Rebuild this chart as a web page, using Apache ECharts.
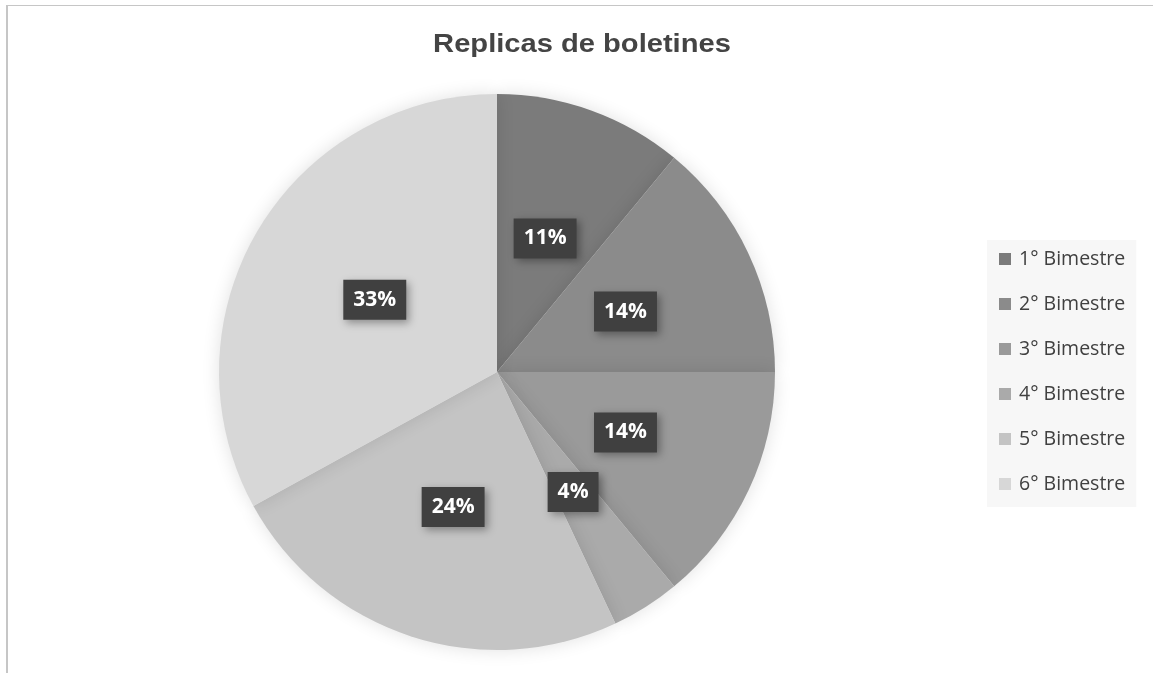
<!DOCTYPE html>
<html>
<head>
<meta charset="utf-8">
<script src="https://cdn.jsdelivr.net/npm/echarts@6/dist/echarts.min.js"></script>
<style>
html,body{margin:0;padding:0;background:#fff;}
#frame{position:absolute;left:6px;top:5px;width:1147px;height:668px;border-top:1px solid #c6c6c6;border-left:2px solid #c6c6c6;box-sizing:border-box;}
#chart{position:absolute;left:0;top:0;width:1153px;height:673px;}
</style>
</head>
<body>
<div id="frame"></div>
<div id="chart"></div>
<script>
const titleText = "Replicas de boletines";
const categories = ["1° Bimestre","2° Bimestre","3° Bimestre","4° Bimestre","5° Bimestre","6° Bimestre"];
const values = [11, 14, 14, 4, 24, 33];
const colors = ["#7b7b7b","#8b8b8b","#9a9a9a","#aaaaaa","#c4c4c4","#d7d7d7"];

const chart = echarts.init(document.getElementById('chart'), null, {renderer:'canvas'});
const data = categories.map((c,i)=>({name:c, value:values[i], itemStyle:{color:colors[i]}}));
chart.setOption({
  animation:false,
  backgroundColor:'transparent',
  graphic:[{
    type:'text', x:582, y:32, scaleX:1.12, originX:0,
    style:{text:titleText, fill:'#444', font:'bold 26px "Liberation Sans", Arial, sans-serif', textAlign:'center', textVerticalAlign:'top'}
  }],
  legend:{
    orient:'vertical',
    left:987, top:240,
    backgroundColor:'#f7f7f7',
    padding:[8,11,12,12],
    itemWidth:12, itemHeight:12,
    itemGap:23,
    icon:'rect',
    textStyle:{fontFamily:'"Open Sans", Lato, sans-serif', fontSize:19.5, color:'#404040', lineHeight:22, padding:[0,0,0,3]},
    data:categories
  },
  series:[{
    type:'pie',
    center:[497,372],
    radius:[0,278],
    startAngle:90,
    clockwise:true,
    avoidLabelOverlap:false,
    itemStyle:{borderWidth:0, shadowBlur:18, shadowColor:'rgba(0,0,0,0.12)'},
    label:{
      show:true,
      position:'inside',
      formatter:p=>Math.round(p.percent)+'%',
      color:'#fff',
      fontFamily:'"Open Sans", Lato, sans-serif',
      fontWeight:'bold',
      fontSize:21,
      lineHeight:21,
      backgroundColor:'#404040',
      padding:[10,10,9,10],
      shadowColor:'rgba(0,0,0,0.35)',
      shadowBlur:8,
      shadowOffsetX:3,
      shadowOffsetY:3
    },
    labelLine:{show:false},
    emphasis:{disabled:true},
    data:data
  }]
});
</script>
</body>
</html>
